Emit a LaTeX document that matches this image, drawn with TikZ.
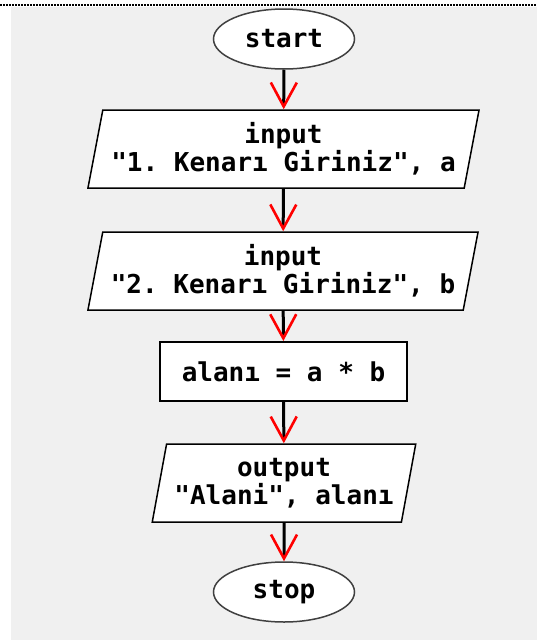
\documentclass[tikz,border=0pt]{standalone}
\usepackage{fontspec}
\setmonofont{DejaVu Sans Mono}
\usetikzlibrary{shapes.geometric,arrows.meta}
\definecolor{panel}{HTML}{F0F0F0}
\definecolor{rim}{HTML}{404040}
\begin{document}
\begin{tikzpicture}[x=1pt,y=-1pt,
  txt/.style={font=\ttfamily\bfseries\fontsize{26}{28}\selectfont, align=center, fill=white, inner sep=0pt},
  term/.style={txt, ellipse, draw=rim, line width=1.5pt, minimum width=141pt, minimum height=60pt},
  io/.style={txt, trapezium, trapezium stretches=true, trapezium left angle=75, trapezium right angle=105, draw=black, line width=1.5pt, minimum height=78pt},
  proc/.style={txt, rectangle, draw=black, line width=2pt, minimum width=247pt, minimum height=59pt},
  flow/.style={line width=3pt, -{Straight Barb[color=red, length=24pt, width=26pt, line width=2.6pt]}}]
\useasboundingbox (0,0) rectangle (537,640);
\fill[panel] (11,7) rectangle (537,640);
\draw[line width=2pt, dash pattern=on 2pt off 1pt] (0,4.5) -- (537,4.5);
\node[term] (start) at (284,39) {start};
\node[io, minimum width=393pt] (in1) at (283.5,149) {input\\"1. Kenarı Giriniz", a};
\node[io, minimum width=392pt] (in2) at (283,271) {input\\"2. Kenarı Giriniz", b};
\node[proc] (calc) at (283.5,371.5) {alanı = a * b};
\node[io, minimum width=264pt] (out) at (284,483) {output\\"Alani", alanı};
\node[term] (stop) at (284,592) {stop};
\draw[flow] (start) -- (in1);
\draw[flow] (in1) -- (in2);
\draw[flow] (in2) -- (calc);
\draw[flow] (calc) -- (out);
\draw[flow] (out) -- (stop);
\end{tikzpicture}
\end{document}
